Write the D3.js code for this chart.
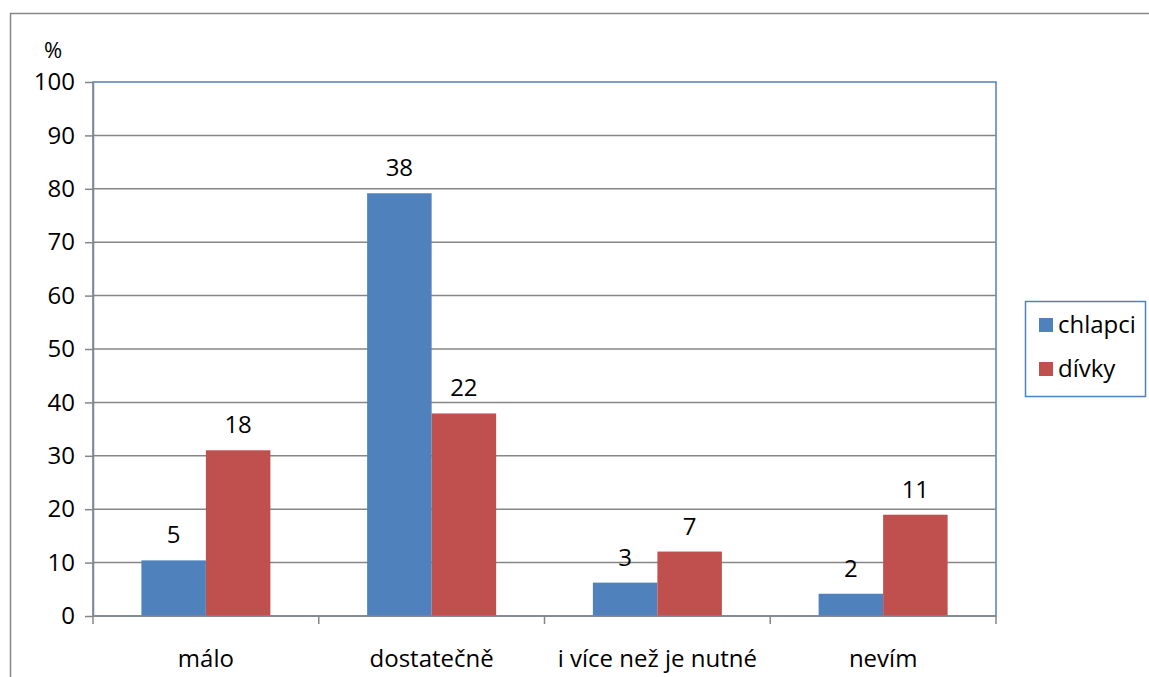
<!DOCTYPE html>
<html>
<head>
<meta charset="utf-8">
<script src="https://cdn.jsdelivr.net/npm/d3@7"></script>
<style>
  html, body { margin: 0; padding: 0; background: #fff; }
  svg { display: block; }
  text { font-family: "Open Sans", Lato, sans-serif; fill: #000; }
</style>
</head>
<body>
<svg id="chart" width="1149" height="677"></svg>
<script>
// Answer categories
const categories = ["málo", "dostatečně", "i více než je nutné", "nevím"];
// Number of respondents per answer
const boysCounts = [5, 38, 3, 2];
const girlsCounts = [18, 22, 7, 11];
const seriesNames = ["chlapci", "dívky"];
const seriesColors = ["#4F81BD", "#C0504D"];
const yTicks = [0, 10, 20, 30, 40, 50, 60, 70, 80, 90, 100];

const FONT = "'Open Sans', Lato, sans-serif";
const FS = 24;

// Bars show each count as a share of that group's total
const toPercent = counts => {
  const total = d3.sum(counts);
  return counts.map(c => c / total * 100);
};
const series = [
  { name: seriesNames[0], color: seriesColors[0], counts: boysCounts, pct: toPercent(boysCounts) },
  { name: seriesNames[1], color: seriesColors[1], counts: girlsCounts, pct: toPercent(girlsCounts) }
];

const svg = d3.select("#chart");
const plot = { left: 93, top: 82, right: 996, bottom: 616 };

// outer chart frame
svg.append("rect")
  .attr("x", 10.5).attr("y", 13.5)
  .attr("width", 1200).attr("height", 700)
  .attr("fill", "#fff").attr("stroke", "#868686").attr("stroke-width", 1.5);

const x = d3.scaleBand().domain(categories).range([plot.left, plot.right]).paddingInner(0).paddingOuter(0);
const inner = d3.scaleBand().domain(seriesNames).range([0, x.bandwidth()]).paddingInner(0).paddingOuter(0.75);
const y = d3.scaleLinear().domain([0, 100]).range([plot.bottom, plot.top]);

// plot area border (blue)
svg.append("rect")
  .attr("x", plot.left).attr("y", plot.top)
  .attr("width", plot.right - plot.left).attr("height", plot.bottom - plot.top)
  .attr("fill", "none").attr("stroke", "#4F81BD").attr("stroke-width", 1.5);

// horizontal gridlines
svg.append("g")
  .selectAll("line")
  .data(yTicks.filter(t => t > 0 && t < 100))
  .join("line")
  .attr("x1", plot.left).attr("x2", plot.right)
  .attr("y1", d => y(d)).attr("y2", d => y(d))
  .attr("stroke", "#868686").attr("stroke-width", 1.5);

// bars
series.forEach(s => {
  const rows = categories.map((c, i) => ({ c, v: s.pct[i], n: s.counts[i] }));
  svg.append("g")
    .selectAll("rect")
    .data(rows)
    .join("rect")
    .attr("x", d => x(d.c) + inner(s.name))
    .attr("y", d => y(d.v))
    .attr("width", inner.bandwidth())
    .attr("height", d => y(0) - y(d.v))
    .attr("fill", s.color);
  // count labels above bars
  svg.append("g")
    .selectAll("text")
    .data(rows)
    .join("text")
    .attr("x", d => x(d.c) + inner(s.name) + inner.bandwidth() / 2)
    .attr("y", d => y(d.v) - 17)
    .attr("text-anchor", "middle")
    .attr("font-size", FS)
    .text(d => d.n);
});

// y axis
const yAxis = svg.append("g")
  .attr("transform", `translate(${plot.left},0)`)
  .call(d3.axisLeft(y).tickValues(yTicks).tickSize(8).tickPadding(10).tickSizeOuter(0));
yAxis.select(".domain").attr("stroke", "#868686").attr("stroke-width", 1.5);
yAxis.selectAll(".tick line").attr("stroke", "#868686").attr("stroke-width", 1.5);
yAxis.selectAll(".tick text").attr("font-size", FS).attr("font-family", FONT).attr("fill", "#000");

// x axis with ticks at category boundaries
svg.append("line")
  .attr("x1", plot.left).attr("x2", plot.right)
  .attr("y1", plot.bottom).attr("y2", plot.bottom)
  .attr("stroke", "#868686").attr("stroke-width", 1.5);
const bounds = categories.map(c => x(c)).concat([x(categories[categories.length - 1]) + x.bandwidth()]);
svg.append("g").selectAll("line")
  .data(bounds).join("line")
  .attr("x1", d => d).attr("x2", d => d)
  .attr("y1", plot.bottom).attr("y2", plot.bottom + 8)
  .attr("stroke", "#868686").attr("stroke-width", 1.5);
svg.append("g").selectAll("text")
  .data(categories).join("text")
  .attr("x", d => x(d) + x.bandwidth() / 2)
  .attr("y", 667)
  .attr("text-anchor", "middle")
  .attr("font-size", FS)
  .text(d => d);

// unit label
svg.append("text").attr("x", 53).attr("y", 58).attr("text-anchor", "middle").attr("font-size", 22).text("%");

// legend
const legend = svg.append("g");
legend.append("rect")
  .attr("x", 1025.5).attr("y", 301.5).attr("width", 120).attr("height", 95)
  .attr("fill", "#fff").attr("stroke", "#4F81BD").attr("stroke-width", 1.5);
series.forEach((s, i) => {
  const yy = 325 + i * 44;
  legend.append("rect").attr("x", 1039).attr("y", yy - 7).attr("width", 14).attr("height", 14).attr("fill", s.color);
  legend.append("text").attr("x", 1058).attr("y", yy + 8).attr("font-size", FS).text(s.name);
});
</script>
</body>
</html>
